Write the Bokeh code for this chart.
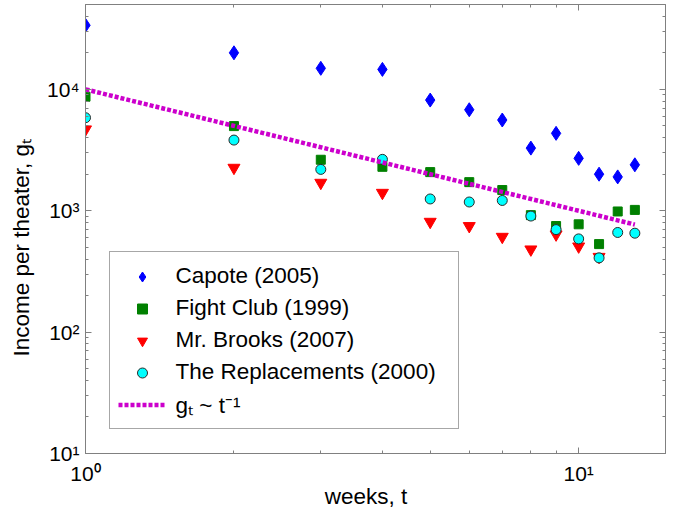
from bokeh.plotting import figure
from bokeh.models import FixedTicker, LogAxis, Legend, LegendItem, CustomJSTickFormatter
from bokeh.embed import file_html
from bokeh.resources import INLINE

# ---------------- data ----------------
weeks = [1, 2, 3, 4, 5, 6, 7, 8, 9, 10, 11, 12, 13]
capote = [33700, 20000, 14900, 14600, 8160, 6790, 5590, 3280, 4340, 2700, 2000, 1900, 2390]
fight_club = [8700, 4980, 2630, 2300, 2080, 1720, 1480, 920, 748, 773, 531, 986, 1016]
brooks_weeks = [1, 2, 3, 4, 5, 6, 7, 8, 9, 10, 11]
mr_brooks = [4680, 2260, 1700, 1405, 811, 748, 610, 480, 638, 508, 417]
replacements = [5840, 3820, 2190, 2650, 1250, 1180, 1215, 904, 699, 586, 409, 662, 653]
fit_t = [1, 13]
fit_g = [10000, 769]

x_major = [1, 10]
x_minor = [2, 3, 4, 5, 6, 7, 8, 9]
y_major = [10, 100, 1000, 10000]
y_minor = [20, 30, 40, 50, 60, 70, 80, 90, 200, 300, 400, 500, 600, 700, 800, 900,
           2000, 3000, 4000, 5000, 6000, 7000, 8000, 9000, 20000, 30000, 40000]
x_tick_labels = ["10⁰", "10¹"]
y_tick_labels = ["10¹", "10²", "10³", "10⁴"]

FONT = "Liberation Sans"
GRAY = "#808080"
NBSP = "\u00a0"

p = figure(x_axis_type="log", y_axis_type="log", x_range=(1, 15), y_range=(10, 50000),
           frame_width=580, frame_height=449,
           min_border_left=85, min_border_right=8, min_border_top=4, min_border_bottom=56,
           output_backend="svg", toolbar_location=None)
p.grid.visible = False
p.outline_line_color = GRAY
p.background_fill_color = "white"
p.border_fill_color = "white"


def style_axis(ax, major, minor, labels=None):
    ax.ticker = FixedTicker(ticks=major, minor_ticks=minor)
    ax.axis_line_color = GRAY
    ax.major_tick_line_color = GRAY
    ax.minor_tick_line_color = GRAY
    ax.major_tick_in = 6
    ax.major_tick_out = 0
    ax.minor_tick_in = 3
    ax.minor_tick_out = 0
    if labels is None:
        ax.formatter = CustomJSTickFormatter(code="return ''")
        ax.major_label_standoff = 0
    else:
        ax.major_label_overrides = {float(v): t for v, t in zip(major, labels)}
        ax.major_label_text_font = FONT
        ax.major_label_text_font_size = "21px"
        ax.major_label_text_color = "black"


style_axis(p.xaxis[0], x_major, x_minor, x_tick_labels)
p.xaxis[0].major_label_standoff = 8
p.xaxis[0].axis_label = "weeks, t" + NBSP * 3
p.xaxis[0].axis_label_standoff = -4

style_axis(p.yaxis[0], y_major, y_minor, y_tick_labels)
p.yaxis[0].major_label_standoff = 6
p.yaxis[0].axis_label = "Income per theater, gₜ" + NBSP * 6
p.yaxis[0].axis_label_standoff = 10

for ax in (p.xaxis[0], p.yaxis[0]):
    ax.axis_label_text_font = FONT
    ax.axis_label_text_font_style = "normal"
    ax.axis_label_text_font_size = "22.5px"
    ax.axis_label_text_color = "black"

top_ax = LogAxis()
style_axis(top_ax, x_major, x_minor)
p.add_layout(top_ax, "above")
right_ax = LogAxis()
style_axis(right_ax, y_major, y_minor)
p.add_layout(right_ax, "right")

# ---------------- marks ----------------
r_cap = p.scatter(weeks, capote, marker="diamond", size=14,
                  fill_color="#0000FF", line_color="#0000FF")
r_fc = p.scatter(weeks, fight_club, marker="square", size=9,
                 fill_color="#008000", line_color="#008000")
r_mb = p.scatter(brooks_weeks, mr_brooks, marker="inverted_triangle", size=12,
                 fill_color="#FF0000", line_color="#FF0000")
r_rep = p.scatter(weeks, replacements, marker="circle", size=10,
                  fill_color="#00FFFF", line_color="#2a2a2a", line_width=1)
r_fit = p.line(fit_t, fit_g, line_color="#CC00CC", line_width=4.5, line_dash="4 2")

legend = Legend(items=[
    LegendItem(label="Capote (2005)", renderers=[r_cap]),
    LegendItem(label="Fight Club (1999)", renderers=[r_fc]),
    LegendItem(label="Mr. Brooks (2007)", renderers=[r_mb]),
    LegendItem(label="The Replacements (2000)", renderers=[r_rep]),
    LegendItem(label="gₜ ~ t⁻¹", renderers=[r_fit]),
], location=(23.5, 24))
legend.label_text_font = FONT
legend.label_text_font_size = "22.5px"
legend.label_text_color = "black"
legend.padding = 8
legend.spacing = 0
legend.margin = 0
legend.glyph_width = 48
legend.glyph_height = 25
legend.label_height = 32
legend.label_width = 274
legend.label_standoff = 10
legend.border_line_color = "#505050"
legend.border_line_width = 1
legend.background_fill_color = "white"
legend.background_fill_alpha = 1
p.add_layout(legend, "center")

open("out.html", "w").write(file_html(p, INLINE))
